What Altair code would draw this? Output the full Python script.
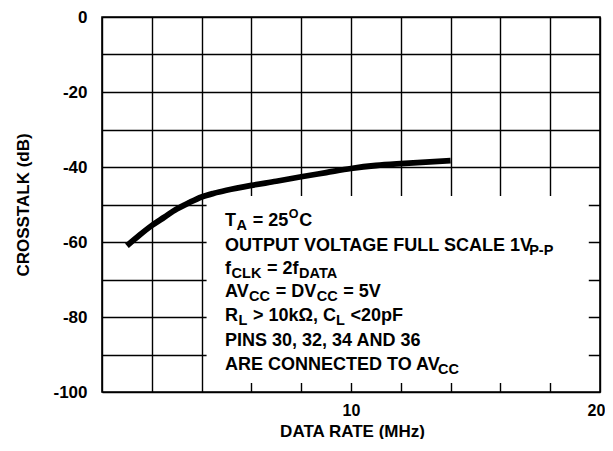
import altair as alt
import pandas as pd

# ---- data ----
rate_mhz = [1.0, 1.5, 2.0, 2.5, 3.0, 3.5, 4.0, 4.5, 5.0, 6.0, 7.0, 8.0, 9.0,
            10.0, 11.0, 12.0, 13.0, 14.0]
crosstalk_db = [-61.0, -58.2, -55.6, -53.4, -51.2, -49.5, -48.0, -47.0, -46.2,
                -44.9, -43.8, -42.6, -41.5, -40.4, -39.6, -39.1, -38.7, -38.3]

x_grid = list(range(0, 21, 2))
y_grid = list(range(-100, 1, 10))

# annotation lines: segments of (text, kind, kerning shift px) ;
# kind: m=main, s=subscript, p=superscript
note_lines = [
    [("T", "m", 0), ("A", "s", 0), (" = 25", "m", 0), ("O", "p", 0), ("C", "m", 0)],
    [("OUTPUT VOLTAGE FULL SCALE 1V", "m", 0), ("P-P", "s", -6.5)],
    [("f", "m", 0), ("CLK", "s", 0), (" = 2f", "m", 0), ("DATA", "s", 0)],
    [("AV", "m", 0), ("CC", "s", -1.5), (" = DV", "m", 0), ("CC", "s", 0), (" = 5V", "m", 0)],
    [("R", "m", 0), ("L", "s", 0), (" > 10k\u03a9, C", "m", 0), ("L", "s", 0), (" <20pF", "m", 0)],
    [("PINS 30, 32, 34 AND 36", "m", 0)],
    [("ARE CONNECTED TO AV", "m", 0), ("CC", "s", -4.5)],
]
note_line_y = [-55.65, -62.4, -68.5, -74.6, -81.0, -87.65, -94.1]
note_x = 4.94
box_x = [4.2, 19.55]
box_y = [-47.7, -97.6]

# ---- layout / style ----
FONT = "Liberation Sans"
W_PLOT, H_PLOT = 498, 375
PX_PER_MHZ = W_PLOT / 20.0
SIZES = {"m": 18, "s": 14.5, "p": 12.5}
DYS = {"m": 0, "s": 4, "p": -7.5}
GAP = 0.6

# Arial/Helvetica bold advance widths (1/1000 em) for spacing the segments
ADV = {" ": 278, ",": 278, "-": 333, "<": 584, "=": 584, ">": 584, "\u03a9": 768,
       "f": 333, "k": 556, "p": 611}
for ch in "0123456789":
    ADV[ch] = 556
ADV.update({"A": 722, "B": 722, "C": 722, "D": 722, "E": 667, "F": 611, "G": 778,
            "H": 722, "I": 278, "K": 722, "L": 611, "M": 833, "N": 722, "O": 778,
            "P": 667, "R": 722, "S": 667, "T": 611, "U": 722, "V": 667, "Y": 667})


def text_w(s, size):
    return sum(ADV.get(c, 600) for c in s) / 1000.0 * size


rows = []
for line, ly in zip(note_lines, note_line_y):
    off = 0.0
    for txt, kind, kern in line:
        size = SIZES[kind]
        stripped = txt.lstrip(" ")
        off += text_w(txt[: len(txt) - len(stripped)], size) + kern
        rows.append({"text": stripped, "kind": kind,
                     "tx": note_x + off / PX_PER_MHZ, "ty": ly})
        off += text_w(stripped, size) + GAP
notes = pd.DataFrame(rows)

curve = pd.DataFrame({"rate": rate_mhz, "xt": crosstalk_db})
box = pd.DataFrame({"x0": [box_x[0]], "x1": [box_x[1]], "y0": [box_y[0]], "y1": [box_y[1]]})

xscale = alt.Scale(domain=[0, 20], nice=False, zero=False)
yscale = alt.Scale(domain=[-100, 0], nice=False, zero=False)

x_axis = alt.Axis(values=x_grid, title="DATA RATE (MHz)", grid=True,
                  labelExpr="(datum.value == 10 || datum.value == 20) ? '' + datum.value : ''",
                  labelFlush=False, labelOverlap=False, labelBound=False,
                  labelOffset={"condition": {"test": "datum.value == 20", "value": -4}, "value": 0},
                  labelFontSize=16, labelPadding=10, tickSize=0, ticks=False, domain=False,
                  titleX=250, titleY=44, titleBaseline="alphabetic")
y_axis = alt.Axis(values=y_grid, title="CROSSTALK (dB)", grid=True,
                  labelExpr="datum.value % 20 == 0 ? '' + datum.value : ''",
                  labelOverlap=False, labelPadding=15, tickSize=0, ticks=False,
                  domain=False, titleX=-74, titleY=187.5, titleAngle=270,
                  titleBaseline="alphabetic", titleAlign="center")

box_layer = alt.Chart(box).mark_rect(color="white", opacity=1).encode(
    x=alt.X("x0:Q", scale=xscale, axis=x_axis),
    x2="x1:Q",
    y=alt.Y("y0:Q", scale=yscale, axis=y_axis),
    y2="y1:Q",
)

line_layer = alt.Chart(curve).mark_line(
    color="black", strokeWidth=5.8, interpolate="monotone", strokeCap="butt"
).encode(
    x=alt.X("rate:Q", scale=xscale, axis=x_axis),
    y=alt.Y("xt:Q", scale=yscale, axis=y_axis),
)

text_layers = []
for kind in ["m", "s", "p"]:
    text_layers.append(
        alt.Chart(notes[notes["kind"] == kind]).mark_text(
            font=FONT, fontWeight="bold", fontSize=SIZES[kind], color="black",
            align="left", baseline="alphabetic", dy=DYS[kind]
        ).encode(
            x=alt.X("tx:Q", scale=xscale, axis=x_axis),
            y=alt.Y("ty:Q", scale=yscale, axis=y_axis),
            text="text:N",
        )
    )

chart = alt.layer(box_layer, line_layer, *text_layers).properties(
    width=W_PLOT, height=H_PLOT,
    autosize=alt.AutoSizeParams(type="none"),
    padding={"left": 94, "top": 9, "right": 5, "bottom": 47},
).configure_view(
    stroke="black", strokeWidth=1.6
).configure_axis(
    labelFont=FONT, labelFontWeight="bold", labelFontSize=17, labelColor="black",
    titleFont=FONT, titleFontWeight="bold", titleFontSize=17, titleColor="black",
    gridColor="black", gridOpacity=1, gridWidth=1.4,
)

chart.save("out.html", embed_options={"renderer": "svg", "actions": False})
